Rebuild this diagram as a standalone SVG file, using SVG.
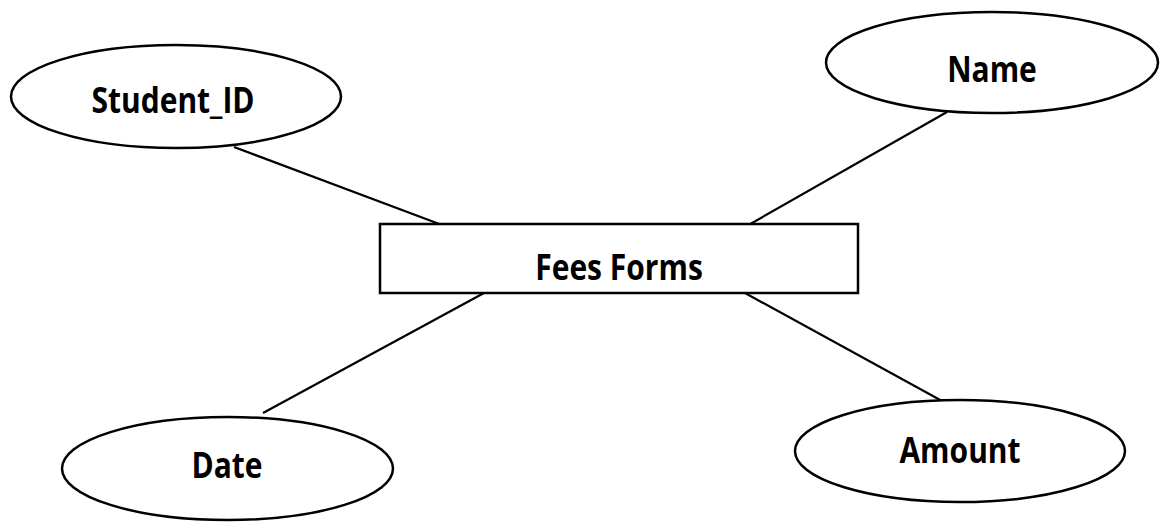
<svg xmlns="http://www.w3.org/2000/svg" width="1160" height="530" viewBox="0 0 1160 530">
  <style>
    .shape { fill: #ffffff; stroke: #000000; stroke-width: 2.5; }
    .link { stroke: #000000; stroke-width: 2.2; fill: none; }
    .label { font-family: "Open Sans", "Liberation Sans", sans-serif; font-weight: bold; font-size: 30px; fill: #000000; text-anchor: middle; }
  </style>
  <rect width="1160" height="530" fill="#ffffff"/>

  <!-- connectors between the entity and its attributes -->
  <g id="connectors">
    <line class="link" x1="234" y1="147" x2="450" y2="228"/>
    <line class="link" x1="947" y1="112" x2="745" y2="227"/>
    <line class="link" x1="263" y1="413" x2="484" y2="293"/>
    <line class="link" x1="745" y1="293" x2="942" y2="401"/>
  </g>

  <g id="fees-forms">
    <rect class="shape" x="380" y="224" width="478" height="69"/>
    <text class="label" transform="translate(619 280) scale(1 1.2)">Fees Forms</text>
  </g>

  <g id="student-id">
    <ellipse class="shape" cx="176" cy="96.5" rx="165" ry="51.5"/>
    <text class="label" transform="translate(173 113) scale(1 1.2)">Student_ID</text>
  </g>

  <g id="name">
    <ellipse class="shape" cx="992" cy="62.5" rx="166" ry="50.5"/>
    <text class="label" transform="translate(992 82) scale(1 1.2)">Name</text>
  </g>

  <g id="date">
    <ellipse class="shape" cx="227.5" cy="468.5" rx="165.5" ry="51.5"/>
    <text class="label" transform="translate(227 478) scale(1 1.2)">Date</text>
  </g>

  <g id="amount">
    <ellipse class="shape" cx="960" cy="451" rx="165" ry="51"/>
    <text class="label" transform="translate(960 463) scale(1 1.2)">Amount</text>
  </g>
</svg>
